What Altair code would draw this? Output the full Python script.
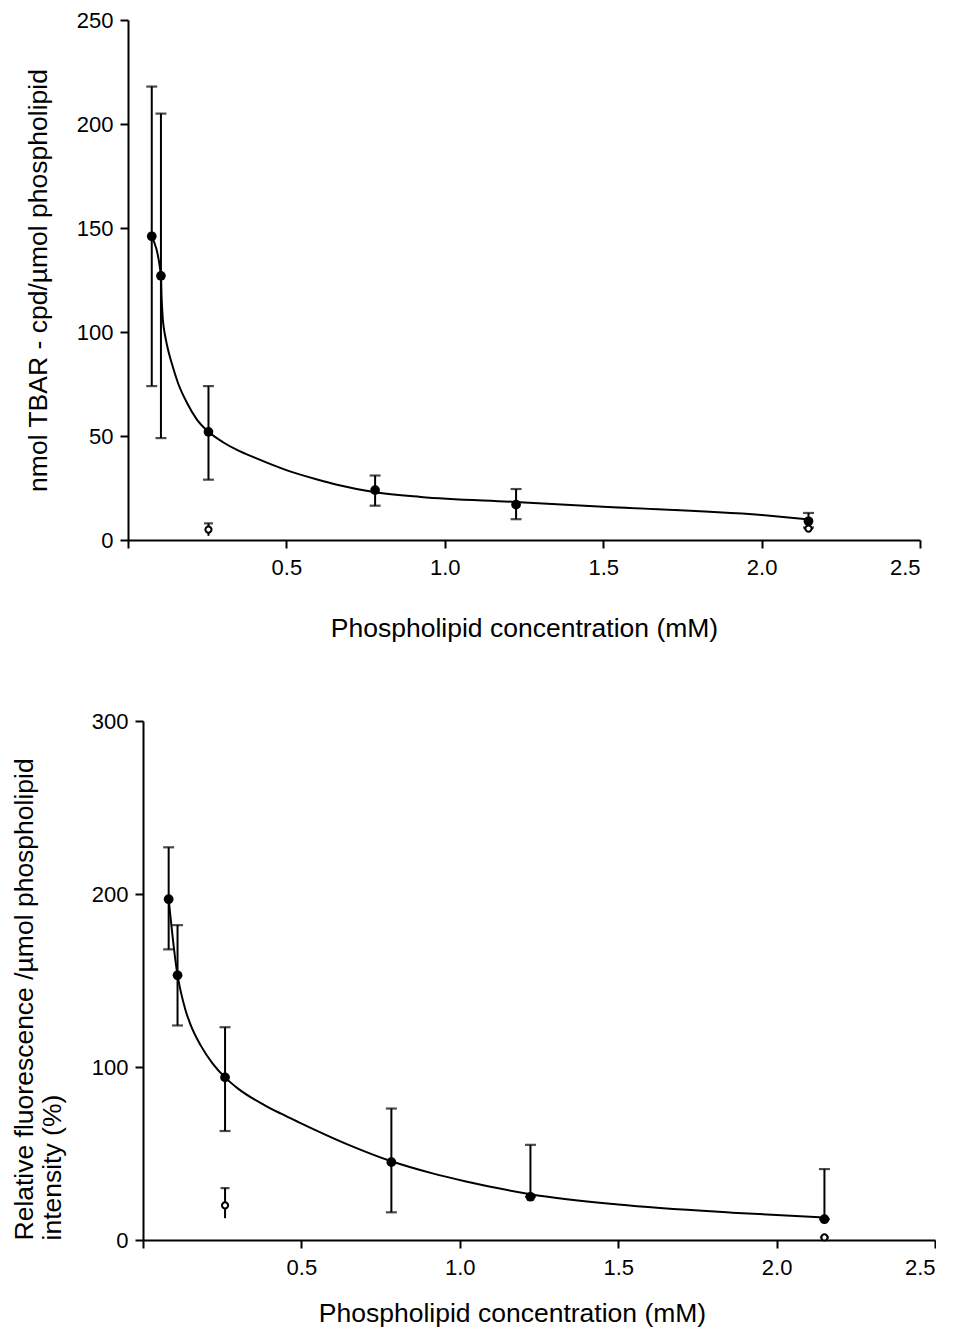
import altair as alt
import pandas as pd

FONT = "Liberation Sans"

# ---------------- top panel (TBAR) ----------------
top_x = [0.075, 0.104, 0.254, 0.78, 1.225, 2.148]
top_y = [146, 127, 52, 24, 17, 9]
top_lo = [74, 49, 29, 16.5, 10, 6]
top_hi = [218, 205, 74, 31, 24.5, 13]

top_open_x = [0.254, 2.148]
top_open_y = [5, 5.5]
top_open_lo = [2, 5.5]
top_open_hi = [8, 5.5]

top_curve_x = [0.075, 0.104, 0.106, 0.108, 0.110, 0.113, 0.117, 0.122, 0.128,
               0.14, 0.159, 0.186, 0.217, 0.254, 0.30, 0.344, 0.40, 0.502,
               0.60, 0.66, 0.78, 0.924, 1.222, 1.5, 2.0, 2.148]
top_curve_y = [146, 127, 117, 110.5, 106, 102, 98.3, 94.5, 90.5, 84, 75, 66,
               58, 52, 47, 43.3, 39.6, 33.5, 29, 26.6, 23, 20.7, 18.3, 16, 12,
               9.9]

# ---------------- bottom panel (fluorescence) ----------------
bot_x = [0.081, 0.109, 0.259, 0.784, 1.223, 2.151]
bot_y = [197, 153, 94, 45, 25, 12]
bot_lo = [168, 124, 63, 16, 25, 12]
bot_hi = [227, 182, 123, 76, 55, 41]

bot_open_x = [0.259, 2.151]
bot_open_y = [20, 1.5]
bot_open_lo = [12.6, 1.5]
bot_open_hi = [30, 1.5]

bot_curve_x = [0.081, 0.109, 0.12, 0.134, 0.15, 0.182, 0.22, 0.259, 0.30,
               0.383, 0.436, 0.489, 0.649, 0.784, 0.914, 1.016, 1.223, 1.5,
               1.86, 2.151]
bot_curve_y = [197, 153, 143, 133, 124.5, 112.5, 102, 94, 87.5, 78, 73, 68.3,
               55, 45.5, 38.5, 34, 26.5, 20.5, 15.8, 13]

x_ticks = [0, 0.5, 1.0, 1.5, 2.0, 2.5]


def panel(xs, ys, lo, hi, oxs, oys, olo, ohi, cx, cy, ymax, yticks,
          ytitle, xtitle, ytitle_pad, xtitle_pad, ytitle_anchor, ytitle_align,
          height, xtitle_x=None):
    pts = pd.DataFrame({"x": xs, "y": ys, "lo": lo, "hi": hi})
    opn = pd.DataFrame({"x": oxs, "y": oys, "lo": olo, "hi": ohi})
    crv = pd.DataFrame({"x": cx, "y": cy})

    xaxis_kw = dict(values=x_ticks, title=xtitle, titlePadding=xtitle_pad,
                    labelExpr="datum.value == 0 ? '' : format(datum.value, '.1f')")
    if xtitle_x is not None:
        xaxis_kw["titleX"] = xtitle_x
    xenc = alt.X("x:Q", scale=alt.Scale(domain=[0, 2.5], nice=False),
                 axis=alt.Axis(**xaxis_kw))
    yenc = alt.Y("y:Q", scale=alt.Scale(domain=[0, ymax], nice=False),
                 axis=alt.Axis(values=yticks, title=ytitle,
                               titlePadding=ytitle_pad,
                               titleAnchor=ytitle_anchor,
                               titleAlign=ytitle_align))

    line = alt.Chart(crv).mark_line(color="black", strokeWidth=2,
                                    interpolate="monotone").encode(x=xenc, y=yenc)
    rules = alt.Chart(pts).mark_rule(color="black", strokeWidth=2).encode(
        x="x:Q", y="lo:Q", y2="hi:Q")
    caps_hi = alt.Chart(pts).mark_tick(color="black", thickness=2.2, size=11,
                                       orient="horizontal").encode(x="x:Q", y="hi:Q")
    caps_lo = alt.Chart(pts).mark_tick(color="black", thickness=2.2, size=11,
                                       orient="horizontal").encode(x="x:Q", y="lo:Q")
    dots = alt.Chart(pts).mark_point(filled=True, color="black", size=95,
                                     opacity=1, shape="circle").encode(x="x:Q", y="y:Q")
    o_rules = alt.Chart(opn).mark_rule(color="black", strokeWidth=2).encode(
        x="x:Q", y="lo:Q", y2="hi:Q")
    o_caps = alt.Chart(opn).mark_tick(color="black", thickness=2.2, size=9,
                                      orient="horizontal").encode(x="x:Q", y="hi:Q")
    o_dots = alt.Chart(opn).mark_point(filled=True, fill="white", stroke="black",
                                       strokeWidth=2, size=38, opacity=1,
                                       shape="circle").encode(x="x:Q", y="y:Q")
    return alt.layer(line, rules, caps_hi, caps_lo, dots, o_rules, o_caps,
                     o_dots).properties(width=792, height=height)


top = panel(top_x, top_y, top_lo, top_hi, top_open_x, top_open_y, top_open_lo,
            top_open_hi, top_curve_x, top_curve_y, 250, [0, 50, 100, 150, 200, 250],
            "nmol TBAR - cpd/\u00b5mol phospholipid",
            "Phospholipid concentration (mM)", 24, 37, "middle", "center", 520)

bottom = panel(bot_x, bot_y, bot_lo, bot_hi, bot_open_x, bot_open_y, bot_open_lo,
               bot_open_hi, bot_curve_x, bot_curve_y, 300, [0, 100, 200, 300],
               ["Relative fluorescence /\u00b5mol phospholipid", "intensity (%)"],
               "Phospholipid  concentration (mM)", 25, 22, "start", "left", 519,
               xtitle_x=369)

# invisible spacer that shifts the lower panel to the right, as in the original
spacer = alt.Chart(pd.DataFrame({"v": [0]})).mark_point(opacity=0).encode(
    x=alt.value(0), y=alt.value(0)).properties(width=15, height=519)

lower = alt.hconcat(spacer, bottom, spacing=0, bounds="flush")

chart = alt.vconcat(top, lower, spacing=181, bounds="flush").properties(
    padding={"left": 3, "top": 1, "right": 0, "bottom": 0}
).configure_view(stroke=None).configure_axis(
    grid=False,
    domainColor="black", domainWidth=2,
    tickColor="black", tickWidth=2, tickSize=8,
    labelFont=FONT, labelFontSize=22, labelColor="black", labelPadding=7,
    titleFont=FONT, titleFontSize=26.5, titleFontWeight="normal",
    titleColor="black", titleLineHeight=28,
).configure_axisX(labelPadding=9)

chart.save("out.html", embed_options={"renderer": "svg", "actions": False})
